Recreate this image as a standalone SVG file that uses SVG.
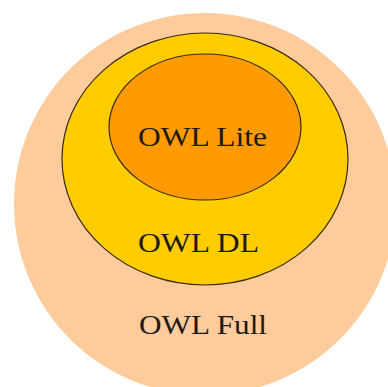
<svg xmlns="http://www.w3.org/2000/svg" width="388" height="387" viewBox="0 0 388 387">
  <style>
    .label { font-family: "Liberation Serif", "Times New Roman", serif; font-size: 28px; fill: #1e1a14; }
    .ring { stroke: #3a2a08; stroke-width: 1.2; }
  </style>
  <rect width="388" height="387" fill="#ffffff"/>
  <g id="owl-full">
    <circle cx="205" cy="204" r="191" fill="#fdcb9c"/>
    <text class="label" x="139" y="334" textLength="128" lengthAdjust="spacingAndGlyphs">OWL Full</text>
  </g>
  <g id="owl-dl">
    <ellipse class="ring" cx="205" cy="159" rx="143" ry="126" fill="#ffcc00"/>
    <text class="label" x="138" y="252" textLength="121" lengthAdjust="spacingAndGlyphs">OWL DL</text>
  </g>
  <g id="owl-lite">
    <ellipse class="ring" cx="205" cy="127" rx="96" ry="73" fill="#ff9a00"/>
    <text class="label" x="138" y="146" textLength="129" lengthAdjust="spacingAndGlyphs">OWL Lite</text>
  </g>
  <g id="connectors"/>
</svg>
